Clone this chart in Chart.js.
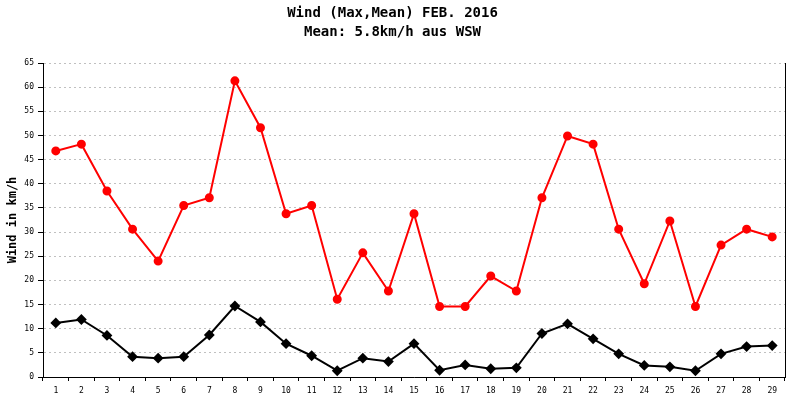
<!DOCTYPE html>
<html>
<head>
<meta charset="utf-8">
<script src="https://cdn.jsdelivr.net/npm/chart.js@4.4.0/dist/chart.umd.min.js"></script>
<style>
  html, body { margin: 0; padding: 0; background: #fff; }
</style>
</head>
<body>
<canvas id="chart" width="800" height="400"></canvas>
<script>
// Tage im Februar 2016
const days = ['1','2','3','4','5','6','7','8','9','10','11','12','13','14','15',
              '16','17','18','19','20','21','22','23','24','25','26','27','28','29'];
// Maximaler Wind (km/h)
const windMax = [46.8, 48.2, 38.5, 30.6, 24.0, 35.5, 37.1, 61.3, 51.6, 33.8, 35.5, 16.1, 25.7, 17.8, 33.8,
                 14.6, 14.6, 20.9, 17.8, 37.1, 49.9, 48.2, 30.6, 19.3, 32.3, 14.6, 27.3, 30.6, 29.0];
// Mittlerer Wind (km/h)
const windMean = [11.2, 11.9, 8.6, 4.2, 3.9, 4.2, 8.7, 14.7, 11.4, 6.9, 4.4, 1.3, 3.9, 3.2, 6.9,
                  1.4, 2.5, 1.7, 1.9, 9.0, 11.0, 7.9, 4.8, 2.4, 2.1, 1.3, 4.8, 6.3, 6.5];
const titleLines = ['Wind (Max,Mean) FEB. 2016', 'Mean: 5.8km/h aus WSW'];
const yTitle = 'Wind in km/h';

const mono = "'DejaVu Sans Mono', 'Liberation Mono', monospace";

const ctx = document.getElementById('chart').getContext('2d');
new Chart(ctx, {
    type: 'line',
    data: {
        labels: days,
        datasets: [{
            label: 'Max',
            data: windMax,
            borderColor: '#ff0000',
            backgroundColor: '#ff0000',
            borderWidth: 2,
            pointStyle: 'circle',
            pointRadius: 3.5,
            tension: 0
        }, {
            label: 'Mean',
            data: windMean,
            borderColor: '#000000',
            backgroundColor: '#000000',
            borderWidth: 2,
            pointStyle: 'rectRot',
            pointRadius: 4,
            tension: 0
        }]
    },
    options: {
        responsive: false,
        devicePixelRatio: 1,
        animation: false,
        layout: { padding: { left: 0, right: 15, top: 0, bottom: 0 } },
        plugins: {
            legend: { display: false },
            tooltip: { enabled: false },
            title: {
                display: true,
                text: titleLines,
                color: '#000',
                font: { family: mono, size: 14, weight: 'bold', lineHeight: 19 / 14 },
                padding: { top: 4, bottom: 21 }
            }
        },
        scales: {
            x: {
                type: 'category',
                offset: true,
                grid: {
                    offset: true,
                    drawOnChartArea: false,
                    drawTicks: true,
                    tickLength: 4,
                    tickColor: '#000'
                },
                border: { display: true, color: '#000', width: 1 },
                ticks: {
                    color: '#000',
                    font: { family: mono, size: 8 },
                    padding: 5,
                    maxRotation: 0,
                    autoSkip: false
                },
                afterFit: function(scale) { scale.height = 23; }
            },
            y: {
                min: 0,
                max: 65,
                grid: {
                    color: '#c0c0c0',
                    drawTicks: true,
                    tickLength: 5,
                    tickColor: '#000'
                },
                border: { display: true, color: '#000', width: 1, dash: [2, 3] },
                ticks: {
                    stepSize: 5,
                    color: '#000',
                    font: { family: mono, size: 8 },
                    padding: 4
                },
                title: {
                    display: true,
                    text: yTitle,
                    color: '#000',
                    font: { family: mono, size: 12, weight: 'bold' },
                    padding: { top: 6, bottom: 0 }
                },
                afterFit: function(scale) { scale.width = 43; }
            },
            y2: {
                position: 'right',
                min: 0,
                max: 65,
                grid: { display: false },
                ticks: { display: false },
                border: { display: true, color: '#000', width: 1 },
                afterFit: function(scale) { scale.width = 0; }
            }
        }
    }
});
</script>
</body>
</html>
